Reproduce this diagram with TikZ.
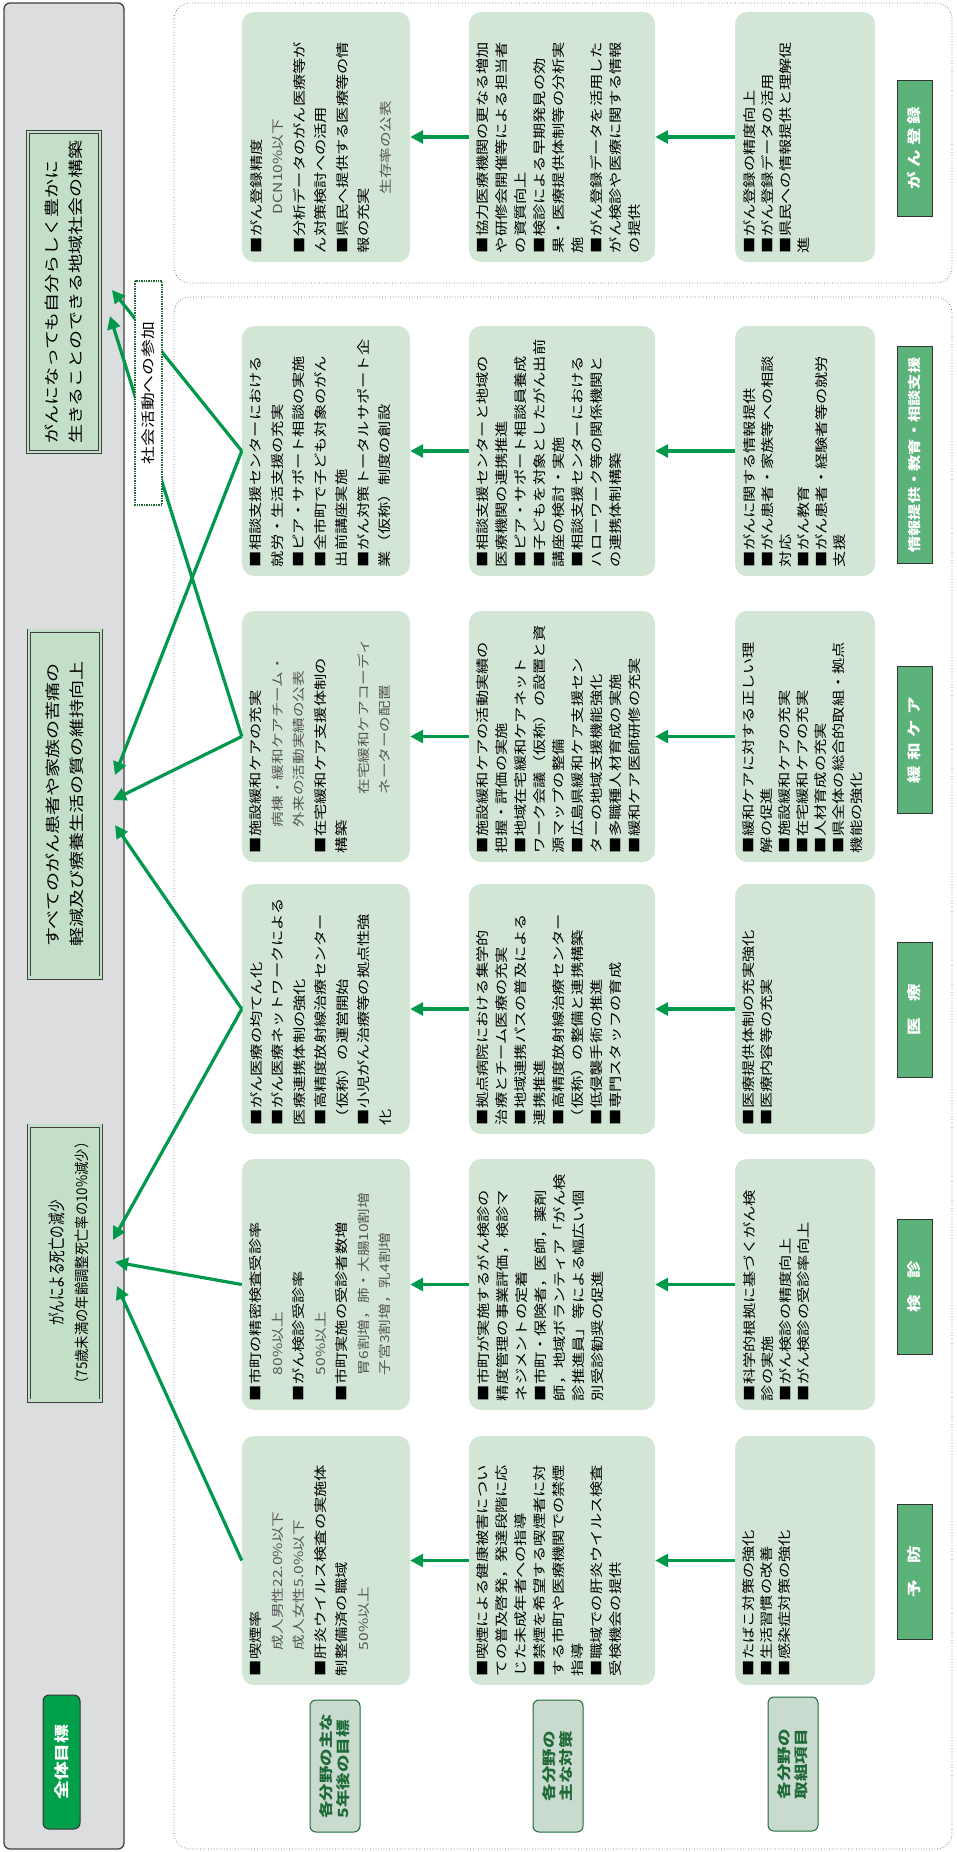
\documentclass[tikz,border=0pt]{standalone}
\usepackage{fontspec}
\usetikzlibrary{arrows.meta,calc}
\newfontfamily\jp[FakeStretch=1.25]{Noto Sans CJK JP}
\newfontfamily\jpw[FakeStretch=1.27]{Noto Sans CJK JP}
\newfontfamily\jpn[FakeStretch=0.9]{Noto Sans CJK JP}
\newfontfamily\jpc[FakeStretch=0.72]{Noto Sans CJK JP}
\definecolor{boxg}{HTML}{D3E6D6}
\definecolor{arrg}{HTML}{00984A}
\definecolor{bandg}{HTML}{DCDDDF}
\definecolor{goalg}{HTML}{C3DFC8}
\definecolor{labg}{HTML}{5BB37A}
\definecolor{sideg}{HTML}{C9DACE}
\definecolor{darkg}{HTML}{1E6A38}
\definecolor{topg}{HTML}{00A04A}
\definecolor{subgray}{HTML}{555555}
\newcommand\mysub[2][2em]{\hspace*{#1}{\color{subgray}\fontsize{12.5}{12.5}\selectfont #2}}
\newcommand\fa{\jp\fontsize{13}{21.5}\selectfont}
\newcommand\fb{\jp\fontsize{13}{19}\selectfont}
\newcommand\fc{\jp\fontsize{13}{18}\selectfont}
\begin{document}
\begin{tikzpicture}[x=1pt,y=1pt,
  rbox/.style={rotate=90, fill=boxg, rounded corners=12pt, inner sep=0pt},
  rtxt/.style={rotate=90, anchor=north west, align=left, inner xsep=9pt, inner ysep=8pt, text=black},
  gar/.style={draw=arrg, line width=3.2pt, -{Triangle[length=13pt,width=13pt]}},
  gbox/.style={rotate=90, draw=black!75, line width=0.9pt, double=goalg, double distance=2.2pt, fill=goalg, inner sep=0pt, align=left},
  gtxt/.style={rotate=90, align=left, inner sep=0pt, font=\jpw\fontsize{15}{24}\selectfont},
  collab/.style={rotate=90, draw=black!80, line width=1pt, fill=labg, text=white, inner sep=0pt, minimum height=35pt, font=\jp\bfseries\fontsize{14}{16}\selectfont},
  sidelab/.style={rotate=90, draw=darkg, line width=1pt, fill=sideg, rounded corners=6pt, text=darkg, inner sep=0pt, align=left, minimum width=132pt, minimum height=50pt, font=\jp\bfseries\fontsize{14}{17}\selectfont},
  dotreg/.style={draw=black!60, dotted, line width=0.7pt, rounded corners=16pt}]
\useasboundingbox (0,0) rectangle (956,-1852);
% outer regions
\draw[fill=bandg, draw=black!75, line width=1.3pt, rounded corners=6pt] (4,-3) rectangle (124,-1849);
\draw[dotreg] (174,-3) rectangle (952,-283);
\draw[dotreg] (174,-297) rectangle (952,-1849);

% gray band goal boxes
\node[gbox, minimum width=275pt, minimum height=72pt] (g1) at (65,-1263) {};
\node[rotate=90, align=center, inner sep=0pt, font=\jpn\fontsize{14.8}{24}\selectfont] (g1t) at ([xshift=4pt]g1.center) {{\jpc\fontsize{17.5}{24}\selectfont がんによる死亡の減少}\\（75歳未満の年齢調整死亡率の10\%減少）};
\node[gbox, minimum width=347pt, minimum height=72pt] (g2) at (65,-804) {};
\node[gtxt] (g2t) at (g2.center) {すべてのがん患者や家族の苦痛の\\軽減及び療養生活の質の維持向上};
\node[gbox, minimum width=320pt, minimum height=72pt] (g3) at (64,-292) {};
\node[gtxt] (g3t) at (g3.center) {がんになっても自分らしく豊かに\\生きることのできる地域社会の構築};

\node[rotate=90, draw=black!80, line width=1pt, fill=topg, text=white, rounded corners=6pt, minimum width=134pt, minimum height=37pt, inner sep=0pt, font=\jp\bfseries\fontsize{15}{17}\selectfont] (zen) at (61.5,-1762) {全体目標};

% side labels
\node[sidelab] (s1) at (335,-1766) {各分野の主な\\5年後の目標};
\node[sidelab] (s2) at (558,-1766) {各分野の\\主な対策};
\node[sidelab, minimum width=134pt] (s3) at (793,-1764) {各分野の\\取組項目};

% ---- row 1 boxes
\node[rbox, minimum width=249pt, minimum height=168pt] (a1) at (326,-1560.5) {};
\node[rtxt, font=\fa] (a1t) at (a1.north west) {■喫煙率\\\mysub{成人男性22.0\%以下}\\\mysub{成人女性5.0\%以下}\\■肝炎ウイルス検査の実施体\\制整備済の職域\\\mysub{50\%以上}};
\node[rbox, minimum width=251pt, minimum height=168pt] (b1) at (326,-1284.5) {};
\node[rtxt, font=\fa] (b1t) at (b1.north west) {■市町の精密検査受診率\\\mysub{80\%以上}\\■がん検診受診率\\\mysub{50\%以上}\\■市町実施の受診者数増\\\mysub{胃6割増，肺・大腸10割増}\\\mysub{子宮3割増，乳4割増}};
\node[rbox, minimum width=250pt, minimum height=168pt] (c1) at (326,-1009) {};
\node[rtxt, font=\fa] (c1t) at (c1.north west) {■がん医療の均てん化\\■がん医療ネットワークによる\\医療連携体制の強化\\■高精度放射線治療センター\\（仮称）の運営開始\\■小児がん治療等の拠点性強\\化};
\node[rbox, minimum width=251pt, minimum height=168pt] (d1) at (326,-736.5) {};
\node[rtxt, font=\fa] (d1t) at (d1.north west) {■施設緩和ケアの充実\\\mysub{病棟・緩和ケアチーム・}\\\mysub{外来の活動実績の公表}\\■在宅緩和ケア支援体制の\\構築\\\mysub[4.5em]{在宅緩和ケアコーディ}\\\mysub[4.5em]{ネーターの配置}};
\node[rbox, minimum width=250pt, minimum height=168pt] (e1) at (326,-451) {};
\node[rtxt, font=\fa] (e1t) at (e1.north west) {■相談支援センターにおける\\就労・生活支援の充実\\■ピア・サポート相談の実施\\■全市町で子ども対象のがん\\出前講座実施\\■がん対策トータルサポート企\\業（仮称）制度の創設};
\node[rbox, minimum width=250pt, minimum height=168pt] (f1) at (326,-137) {};
\node[rtxt, font=\fa] (f1t) at (f1.north west) {■がん登録精度\\\mysub[3em]{DCN10\%以下}\\■分析データのがん医療等が\\ん対策検討への活用\\■県民へ提供する医療等の情\\報の充実\\\mysub[4.5em]{生存率の公表}};

% ---- row 2 boxes
\node[rbox, minimum width=249pt, minimum height=186pt] (a2) at (562,-1560.5) {};
\node[rtxt, font=\fb] (a2t) at (a2.north west) {■喫煙による健康被害につい\\ての普及啓発，発達段階に応\\じた未成年者への指導\\■禁煙を希望する喫煙者に対\\する市町や医療機関での禁煙\\指導\\■職域での肝炎ウイルス検査\\受検機会の提供};
\node[rbox, minimum width=251pt, minimum height=186pt] (b2) at (562,-1284.5) {};
\node[rtxt, font=\fb] (b2t) at (b2.north west) {■市町が実施するがん検診の\\精度管理の事業評価，検診マ\\ネジメントの定着\\■市町・保険者，医師，薬剤\\師，地域ボランティア「がん検\\診推進員」等による幅広い個\\別受診勧奨の促進};
\node[rbox, minimum width=250pt, minimum height=186pt] (c2) at (562,-1009) {};
\node[rtxt, font=\fb] (c2t) at (c2.north west) {■拠点病院における集学的\\治療とチーム医療の充実\\■地域連携パスの普及による\\連携推進\\■高精度放射線治療センター\\（仮称）の整備と連携構築\\■低侵襲手術の推進\\■専門スタッフの育成};
\node[rbox, minimum width=251pt, minimum height=186pt] (d2) at (562,-736.5) {};
\node[rtxt, font=\fb] (d2t) at (d2.north west) {■施設緩和ケアの活動実績の\\把握・評価の実施\\■地域在宅緩和ケアネット\\ワーク会議（仮称）の設置と資\\源マップの整備\\■広島県緩和ケア支援セン\\ターの地域支援機能強化\\■多職種人材育成の実施\\■緩和ケア医師研修の充実};
\node[rbox, minimum width=250pt, minimum height=186pt] (e2) at (562,-451) {};
\node[rtxt, font=\fb] (e2t) at (e2.north west) {■相談支援センターと地域の\\医療機関の連携推進\\■ピア・サポート相談員養成\\■子どもを対象としたがん出前\\講座の検討・実施\\■相談支援センターにおける\\ハローワーク等の関係機関と\\の連携体制構築};
\node[rbox, minimum width=250pt, minimum height=186pt] (f2) at (562,-137) {};
\node[rtxt, font=\fb] (f2t) at (f2.north west) {■協力医療機関の更なる増加\\や研修会開催等による担当者\\の資質向上\\■検診による早期発見の効\\果・医療提供体制等の分析実\\施\\■がん登録データを活用した\\がん検診や医療に関する情報\\の提供};

% ---- row 3 boxes
\node[rbox, minimum width=249pt, minimum height=140pt] (a3) at (805,-1560.5) {};
\node[rtxt, font=\fc] (a3t) at (a3.north west) {■たばこ対策の強化\\■生活習慣の改善\\■感染症対策の強化};
\node[rbox, minimum width=251pt, minimum height=140pt] (b3) at (805,-1284.5) {};
\node[rtxt, font=\fc] (b3t) at (b3.north west) {■科学的根拠に基づくがん検\\診の実施\\■がん検診の精度向上\\■がん検診の受診率向上};
\node[rbox, minimum width=250pt, minimum height=140pt] (c3) at (805,-1009) {};
\node[rtxt, font=\fc] (c3t) at (c3.north west) {■医療提供体制の充実強化\\■医療内容等の充実};
\node[rbox, minimum width=251pt, minimum height=140pt] (d3) at (805,-736.5) {};
\node[rtxt, font=\fc] (d3t) at (d3.north west) {■緩和ケアに対する正しい理\\解の促進\\■施設緩和ケアの充実\\■在宅緩和ケアの充実\\■人材育成の充実\\■県全体の総合的取組・拠点\\機能の強化};
\node[rbox, minimum width=250pt, minimum height=140pt] (e3) at (805,-451) {};
\node[rtxt, font=\fc] (e3t) at (e3.north west) {■がんに関する情報提供\\■がん患者・家族等への相談\\対応\\■がん教育\\■がん患者・経験者等の就労\\支援};
\node[rbox, minimum width=250pt, minimum height=140pt] (f3) at (805,-137) {};
\node[rtxt, font=\fc] (f3t) at (f3.north west) {■がん登録の精度向上\\■がん登録データの活用\\■県民への情報提供と理解促\\進};

% column labels
\node[collab, minimum width=135pt] (la) at (914.5,-1572) {予\hspace{1.2em}防};
\node[collab, minimum width=135pt] (lb) at (914.5,-1287) {検\hspace{1.2em}診};
\node[collab, minimum width=135pt] (lc) at (914.5,-1010) {医\hspace{1.2em}療};
\node[collab, minimum width=147pt] (ld) at (914.5,-740) {緩\hspace{0.4em}和\hspace{0.4em}ケ\hspace{0.4em}ア};
\node[collab, minimum width=217pt, font=\jp\bfseries\fontsize{13}{15}\selectfont] (le) at (914.5,-455) {情報提供・教育・相談支援};
\node[collab, minimum width=136pt] (lf) at (914.5,-148) {が\hspace{0.3em}ん\hspace{0.3em}登\hspace{0.3em}録};

% row arrows
\foreach \c in {a,b,c,d,e,f}{
  \draw[gar] (\c3.north) -- (\c2.south);
  \draw[gar] (\c2.north) -- (\c1.south);
}

% arrows to goals
\coordinate (t1a) at (117,-1286);
\coordinate (t1b) at (115,-1262);
\coordinate (t1c) at (113,-1240);
\coordinate (t2a) at (115,-825);
\coordinate (t2b) at (113,-800);
\coordinate (t2c) at (115,-775);
\coordinate (t3a) at (110,-316);
\coordinate (t3b) at (112,-290);
\draw[gar] (a1.north) -- (t1a);
\draw[gar] (b1.north) -- (t1b);
\draw[gar] (c1.north) -- (t1c);
\draw[gar] (c1.north) -- (t2a);
\draw[gar] (d1.north) -- (t2b);
\draw[gar] (e1.north) -- (t2c);
\draw[gar] (d1.north) -- (t3a);
\draw[gar] (e1.north) -- (t3b);

% social participation box
\node[rotate=90, draw=darkg, densely dotted, line width=1.4pt, fill=white, minimum width=224pt, minimum height=27pt, inner sep=0pt, font=\jpw\fontsize{14}{16}\selectfont] (soc) at (148.5,-393) {社会活動への参加};
\end{tikzpicture}
\end{document}
